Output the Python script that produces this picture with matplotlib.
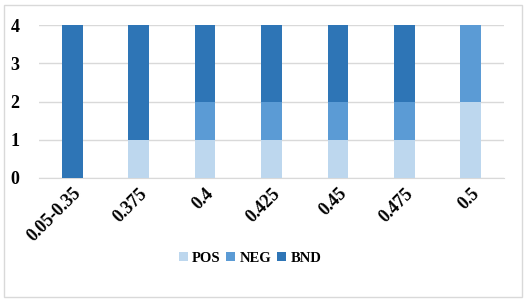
import numpy as np
import matplotlib.pyplot as plt
from matplotlib.patches import Rectangle

categories = ["0.05-0.35", "0.375", "0.4", "0.425", "0.45", "0.475", "0.5"]
pos = [0, 1, 1, 1, 1, 1, 2]
neg = [0, 0, 1, 1, 1, 1, 2]
bnd = [4, 3, 2, 2, 2, 2, 0]

plt.rcParams['font.family'] = ['Liberation Serif', 'DejaVu Serif']
plt.rcParams['font.weight'] = 'bold'

fig = plt.figure(figsize=(5.28, 3.02), dpi=100)
fig.patches.append(Rectangle((4 / 528, 5 / 302), 518 / 528, 292 / 302,
                             transform=fig.transFigure, fill=False,
                             edgecolor="#D9D9D9", linewidth=1))
ax = fig.add_axes([39 / 528, 1 - 178 / 302, 465 / 528, 153 / 302])

x = np.arange(len(categories))
w = 0.31
ax.bar(x, pos, w, color="#BDD7EE", label="POS", zorder=3)
ax.bar(x, neg, w, bottom=pos, color="#5B9BD5", label="NEG", zorder=3)
bottom2 = np.array(pos) + np.array(neg)
ax.bar(x, bnd, w, bottom=bottom2, color="#2E75B6", label="BND", zorder=3)

ax.set_xlim(-0.5, len(categories) - 0.5)
ax.set_ylim(0, 4)
ax.set_yticks(range(5))
ax.yaxis.grid(True, color="#D9D9D9", linewidth=1, zorder=0)
for s in ["top", "right", "left"]:
    ax.spines[s].set_visible(False)
ax.spines["bottom"].set_color("#D9D9D9")
ax.tick_params(length=0, labelsize=13)
ax.tick_params(axis="y", pad=14)
ax.tick_params(axis="x", pad=5)
ax.set_xticks(x)
ax.set_xticklabels(categories, rotation=45, ha="right", rotation_mode="anchor")

fig.legend(loc="center", bbox_to_anchor=(250 / 528, 1 - 258 / 302), ncol=3,
           frameon=False, fontsize=10.5, handlelength=0.6, handleheight=0.6,
           handletextpad=0.3, columnspacing=0.4)

fig.savefig("out.png", dpi=100)
